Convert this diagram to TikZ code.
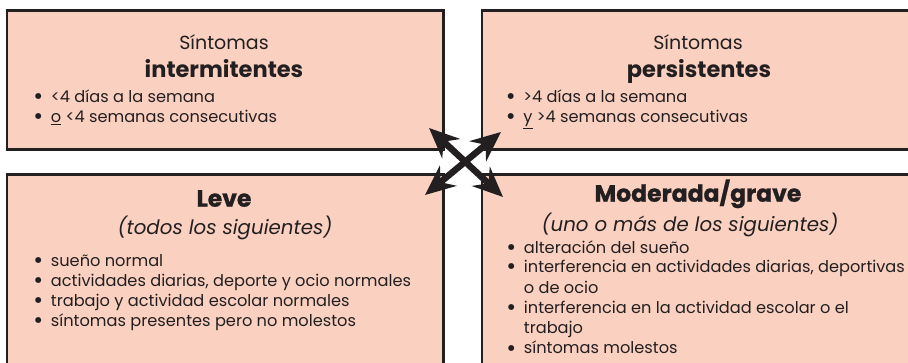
\documentclass[tikz,border=0pt]{standalone}
\usepackage{fontspec}
\setmainfont{Poppins}
\usetikzlibrary{arrows.meta}
\definecolor{peach}{HTML}{FAD0C0}
\definecolor{ink}{HTML}{231F20}
\newcommand{\bulx}{\makebox[0pt][c]{\smash{\raisebox{-2pt}{\fontsize{24}{24}\selectfont\textbullet}}}\hspace{12.7pt}}
\tikzset{
  box/.style={draw=ink, fill=peach, line width=2.8pt, inner sep=0pt, anchor=north west},
  headr/.style={anchor=base, inner sep=0pt, text=ink, font=\fontsize{19}{22}\selectfont},
  headb/.style={anchor=base, inner sep=0pt, text=ink, font=\fontsize{22.5}{26}\selectfont\bfseries},
  headx/.style={anchor=base, inner sep=0pt, text=ink, font=\fontsize{23.5}{26}\selectfont\bfseries\addfontfeature{FakeBold=1}},
  subit/.style={anchor=base, inner sep=0pt, text=ink, font=\fontsize{19.8}{22}\selectfont\itshape},
  item/.style={anchor=base west, inner sep=0pt, text=ink, font=\fontsize{16.2}{20}\selectfont},
  bigarrow/.style={draw=ink, fill=ink, line width=6.5pt,
    {Stealth[length=30pt,width=26pt,inset=10pt]}-{Stealth[length=30pt,width=26pt,inset=10pt]}}
}
\begin{document}
\begin{tikzpicture}[x=1pt,y=-1pt]
\useasboundingbox (0,0) rectangle (908,363);
\clip (0,0) rectangle (908,363);
\fill[white] (0,0) rectangle (908,363);
% boxes
\node[box, minimum width=436.5pt, minimum height=138.5pt] (tl) at (5.5,9.5) {};
\node[box, minimum width=435.5pt, minimum height=138.5pt] (tr) at (480.5,9.5) {};
\node[box, minimum width=436.5pt, minimum height=200pt] (bl) at (5.5,173) {};
\node[box, minimum width=435.5pt, minimum height=200pt] (br) at (480.5,173) {};
% top left
\node[headr] (tlh1) at (224,50) {Síntomas};
\node[headb] (tlh2) at (224,78) {intermitentes};
\node[item] (tli1) at (38,103) {\bulx <4 días a la semana};
\node[item] (tli2) at (38,123) {\bulx \underline{o} <4 semanas consecutivas};
% top right
\node[headr] (trh1) at (698,50) {Síntomas};
\node[headb] (trh2) at (699,78) {persistentes};
\node[item] (tri1) at (510.5,103) {\bulx >4 días a la semana};
\node[item] (tri2) at (510.5,123) {\bulx \underline{y} >4 semanas consecutivas};
% bottom left
\node[headx] (blh1) at (224,206.7) {Leve};
\node[subit] (blh2) at (225,235) {(todos los siguientes)};
\node[item] (bli1) at (38,266.7) {\bulx sueño normal};
\node[item] (bli2) at (38,286.7) {\bulx actividades diarias, deporte y ocio normales};
\node[item] (bli3) at (38,306.7) {\bulx trabajo y actividad escolar normales};
\node[item] (bli4) at (38,326.7) {\bulx síntomas presentes pero no molestos};
% bottom right
\node[headx] (brh1) at (698,201.7) {Moderada/grave};
\node[subit] (brh2) at (690,231.7) {(uno o más de los siguientes)};
\node[item] (bri1) at (511,253.3) {\bulx alteración del sueño};
\node[item] (bri2) at (511,273) {\bulx interferencia en actividades diarias, deportivas};
\node[item] (bri2b) at (523.7,293.3) {o de ocio};
\node[item] (bri3) at (511,314) {\bulx interferencia en la actividad escolar o el};
\node[item] (bri3b) at (523.7,333.5) {trabajo};
\node[item] (bri4) at (511,354) {\bulx síntomas molestos};
% arrows
\coordinate (aUL) at (429,128);
\coordinate (aLR) at (503,197);
\coordinate (aUR) at (501,132);
\coordinate (aLL) at (425,195);
\draw[bigarrow] (aUL) -- (aLR);
\draw[bigarrow] (aUR) -- (aLL);
\end{tikzpicture}
\end{document}
